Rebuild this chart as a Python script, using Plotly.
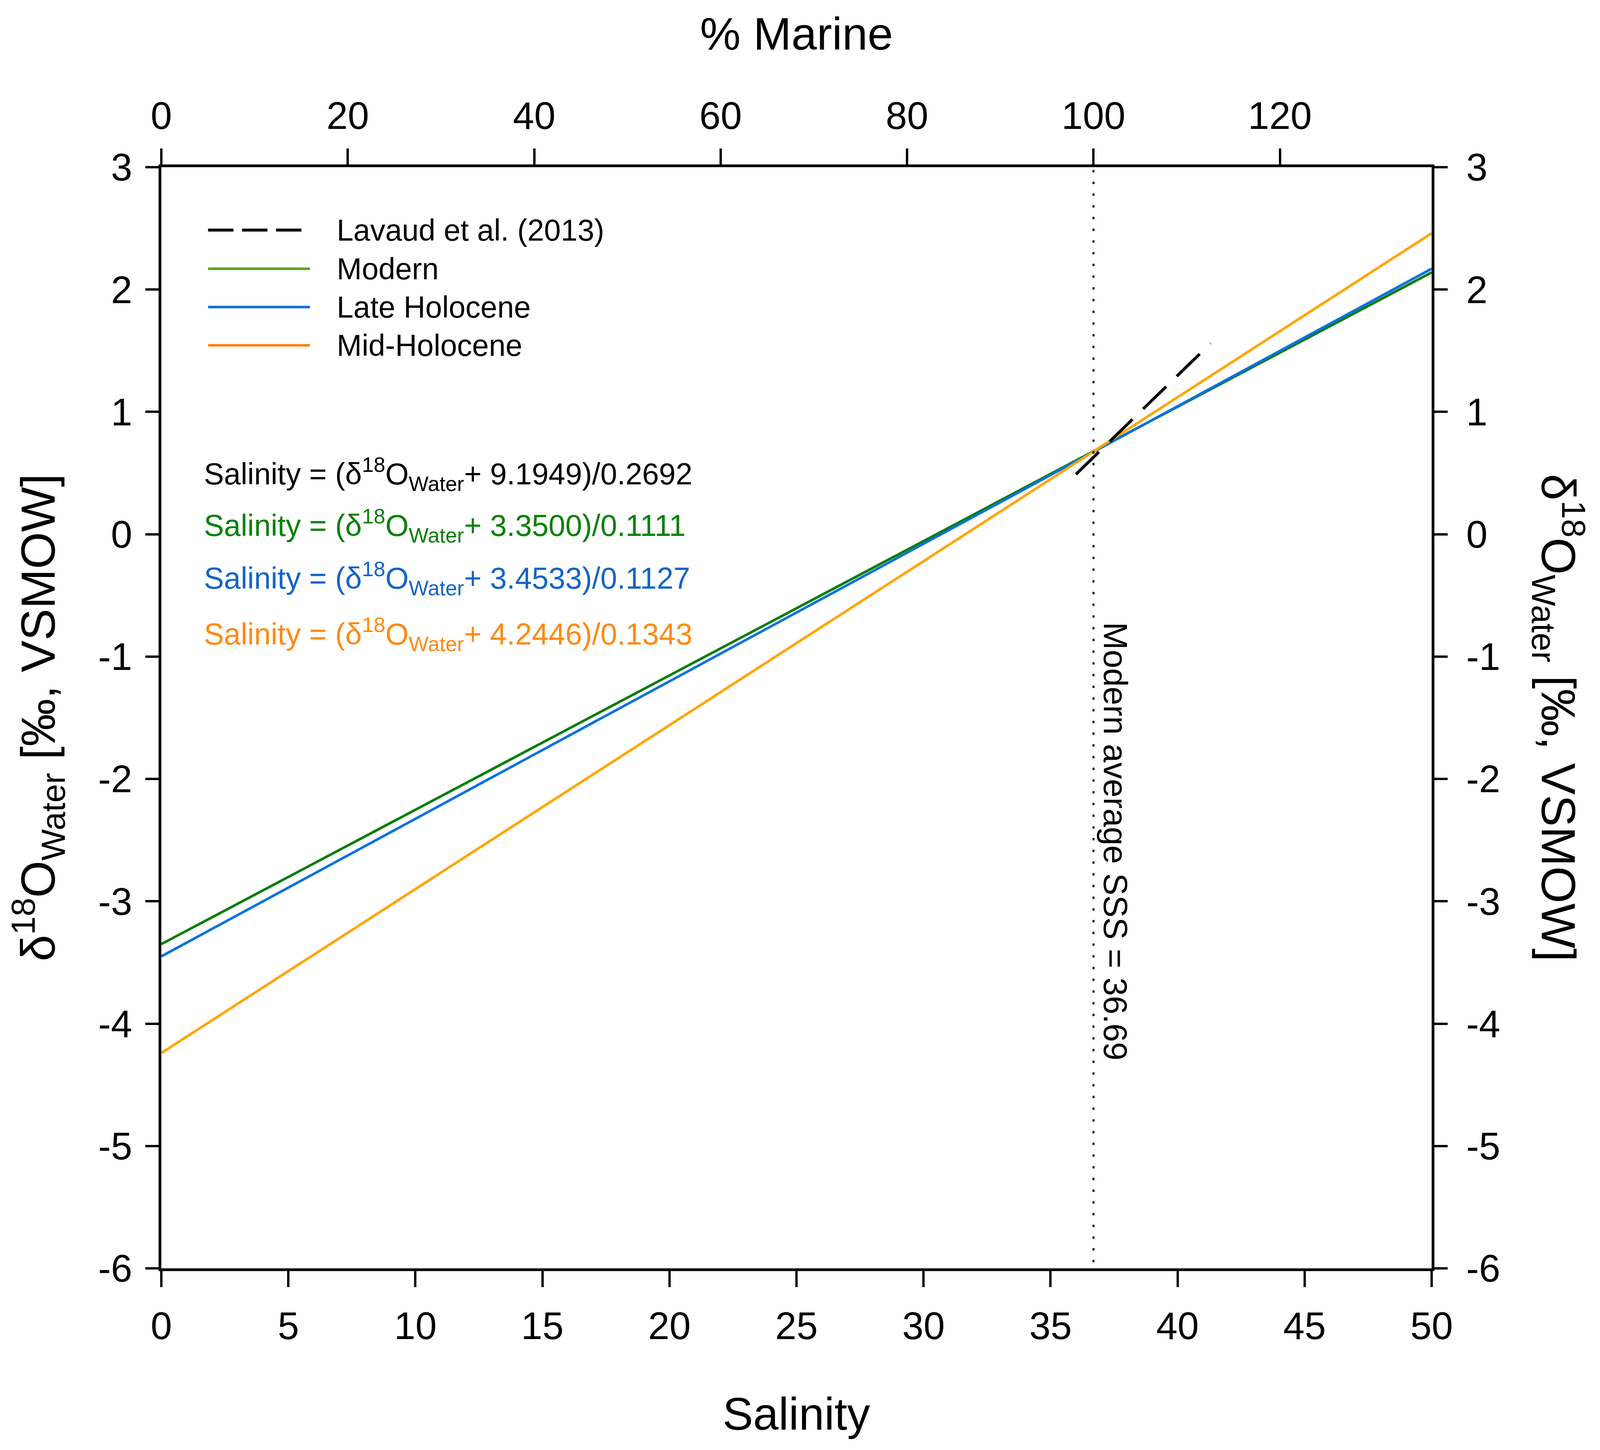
import plotly.graph_objects as go

# salinity vs d18O water lines (end points)
salinity = [0, 50]
modern_d18o = [-3.35, 2.14]
late_holo_d18o = [-3.45, 2.17]
mid_holo_d18o = [-4.24, 2.46]

lavaud_salinity = [36.0, 41.3]
lavaud_d18o = [0.49, 1.56]

modern_sss = 36.69
sss_marine_pct = [100, 100]
sss_line_y = [-5.95, 3]

y_ticks = [3, 2, 1, 0, -1, -2, -3, -4, -5, -6]
y_ticklabels = ["3", "2", "1", "0", "-1", "-2", "-3", "-4", "-5", "-6"]
x_ticks = [0, 5, 10, 15, 20, 25, 30, 35, 40, 45, 50]
marine_ticks = [0, 20, 40, 60, 80, 100, 120]

legend_names = ["Lavaud et al. (2013)", "Modern", "Late Holocene", "Mid-Holocene"]
legend_colors = ["#000000", "#5ba319", "#0a6fd6", "#ff800a"]
equations = [
    "Salinity = (δ<sup>18</sup>O<sub>Water</sub>+ 9.1949)/0.2692",
    "Salinity = (δ<sup>18</sup>O<sub>Water</sub>+ 3.3500)/0.1111",
    "Salinity = (δ<sup>18</sup>O<sub>Water</sub>+ 3.4533)/0.1127",
    "Salinity = (δ<sup>18</sup>O<sub>Water</sub>+ 4.2446)/0.1343",
]
eq_colors = ["#000000", "#0a800a", "#1464c8", "#ff8a14"]

FONT = "Liberation Sans, Arial, sans-serif"

fig = go.Figure()
fig.add_trace(go.Scatter(x=salinity, y=modern_d18o, mode="lines",
                         line=dict(color="#0a7d0a", width=6.5), showlegend=False))
fig.add_trace(go.Scatter(x=salinity, y=late_holo_d18o, mode="lines",
                         line=dict(color="#0a72e0", width=6.5), showlegend=False))
fig.add_trace(go.Scatter(x=salinity, y=mid_holo_d18o, mode="lines",
                         line=dict(color="#ffa500", width=6.5), showlegend=False))
fig.add_trace(go.Scatter(x=lavaud_salinity, y=lavaud_d18o, mode="lines",
                         line=dict(color="black", width=7.5, dash="82px,38px"),
                         showlegend=False))
# dotted modern SSS line on the % marine / right axes
fig.add_trace(go.Scatter(x=sss_marine_pct, y=sss_line_y, mode="lines",
                         xaxis="x2", yaxis="y2",
                         line=dict(color="black", width=5, dash="6px,24px"),
                         showlegend=False))

axis_common = dict(showline=True, linecolor="black", linewidth=7, ticks="outside",
                   tickwidth=6, tickcolor="black", showgrid=False,
                   zeroline=False, tickfont=dict(family=FONT, size=98, color="black"))

fig.update_layout(
    width=4080, height=3696,
    margin=dict(l=405, r=423, t=420, b=457),
    plot_bgcolor="white", paper_bgcolor="white",
    font=dict(family=FONT, color="black"),
    xaxis=dict(range=[0, 50], tickvals=x_ticks, ticklen=41, ticklabelstandoff=15,
               **axis_common),
    xaxis2=dict(range=[0, 50 / modern_sss * 100], tickvals=marine_ticks, overlaying="x",
                side="top", ticklen=41, ticklabelstandoff=11, **axis_common),
    yaxis=dict(range=[-6, 3], tickvals=y_ticks, ticktext=y_ticklabels, ticklen=34,
               ticklabelstandoff=14, **axis_common),
    yaxis2=dict(range=[-6, 3], tickvals=y_ticks, ticktext=y_ticklabels, overlaying="y",
                side="right", ticklen=34, ticklabelstandoff=28, **axis_common),
)

annotations = []
# axis titles
title_font = dict(family=FONT, size=117, color="black")
ytitle_font = dict(family=FONT, size=122, color="black")
annotations.append(dict(text="Salinity", x=0.5, y=-0.1323, xref="paper", yref="paper",
                        xanchor="center", yanchor="middle", showarrow=False, font=title_font))
annotations.append(dict(text="% Marine", x=0.5, y=1.121, xref="paper", yref="paper",
                        xanchor="center", yanchor="middle", showarrow=False, font=title_font))
ytitle = "δ<sup>18</sup>O<sub>Water</sub> [‰, VSMOW]"
annotations.append(dict(text=ytitle, x=-0.097, y=0.5, xref="paper", yref="paper",
                        xanchor="center", yanchor="middle", textangle=-90,
                        showarrow=False, font=ytitle_font))
annotations.append(dict(text=ytitle, x=1.1, y=0.5, xref="paper", yref="paper",
                        xanchor="center", yanchor="middle", textangle=90,
                        showarrow=False, font=ytitle_font))
# SSS label
annotations.append(dict(text="Modern average SSS = %.2f" % modern_sss, x=37.55, y=-2.51,
                        xref="x", yref="y", xanchor="center", yanchor="middle",
                        textangle=90, showarrow=False,
                        font=dict(family=FONT, size=85, color="black")))

# legend drawn by hand (long sample lines like the original)
legend_y = [0.9429, 0.9078, 0.8730, 0.8382]
shapes = []
for i, name in enumerate(legend_names):
    shapes.append(dict(type="line", xref="paper", yref="paper", x0=0.0368, x1=0.117,
                       y0=legend_y[i], y1=legend_y[i],
                       line=dict(color=legend_colors[i], width=6.5 if i else 7.5,
                                 dash="65px,22px" if i == 0 else "solid")))
    annotations.append(dict(text=name, x=0.1375, y=legend_y[i], xref="paper", yref="paper",
                            xanchor="left", yanchor="middle", showarrow=False,
                            font=dict(family=FONT, size=77, color="black")))

eq_y = [0.7212, 0.6744, 0.6265, 0.5758]
for txt, col, yy in zip(equations, eq_colors, eq_y):
    annotations.append(dict(text=txt, x=0.0329, y=yy, xref="paper", yref="paper",
                            xanchor="left", yanchor="middle", showarrow=False,
                            font=dict(family=FONT, size=77, color=col)))

fig.update_layout(annotations=annotations, shapes=shapes)
fig.write_html("out.html")
